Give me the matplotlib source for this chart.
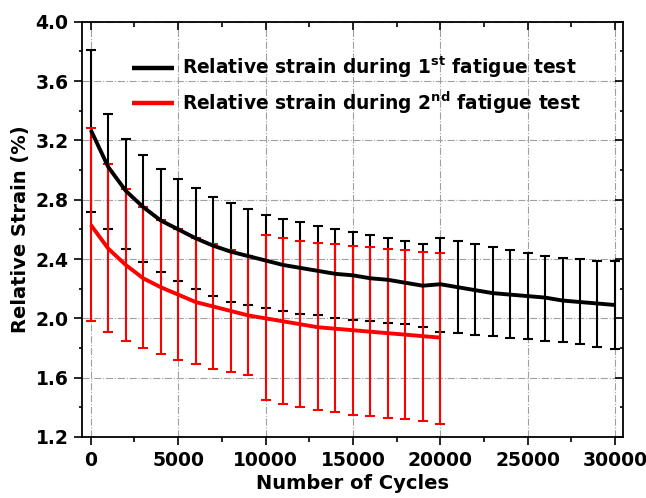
import matplotlib
matplotlib.use("Agg")
import matplotlib.pyplot as plt
import numpy as np
from matplotlib.ticker import MultipleLocator, FormatStrFormatter

plt.rcParams['font.family'] = ['DejaVu Sans']
plt.rcParams['font.weight'] = 'bold'
plt.rcParams['mathtext.fontset'] = 'custom'
plt.rcParams['mathtext.bf'] = 'DejaVu Sans:bold'
plt.rcParams['mathtext.rm'] = 'DejaVu Sans:bold'

# ---- data ----
cycles1 = list(range(0, 30001, 1000))
mean1 = [3.27, 3.02, 2.86, 2.75, 2.66, 2.60, 2.54, 2.49, 2.45, 2.42, 2.39,
         2.36, 2.34, 2.32, 2.30, 2.29, 2.27, 2.26, 2.24, 2.22, 2.23,
         2.21, 2.19, 2.17, 2.16, 2.15, 2.14, 2.12, 2.11, 2.10, 2.09]
upper1 = [3.81, 3.38, 3.21, 3.10, 3.01, 2.94, 2.88, 2.82, 2.78, 2.74, 2.70,
          2.67, 2.65, 2.62, 2.60, 2.58, 2.56, 2.54, 2.52, 2.50, 2.54,
          2.52, 2.50, 2.48, 2.46, 2.44, 2.42, 2.41, 2.40, 2.39, 2.39]
lower1 = [2.72, 2.60, 2.47, 2.38, 2.31, 2.25, 2.20, 2.15, 2.11, 2.09, 2.07,
          2.05, 2.03, 2.02, 2.00, 1.99, 1.98, 1.97, 1.96, 1.94, 1.91,
          1.90, 1.89, 1.88, 1.87, 1.86, 1.85, 1.84, 1.83, 1.81, 1.79]

cycles2 = list(range(0, 20001, 1000))
mean2 = [2.63, 2.47, 2.36, 2.27, 2.21, 2.16, 2.11, 2.08, 2.05, 2.02, 2.00,
         1.98, 1.96, 1.94, 1.93, 1.92, 1.91, 1.90, 1.89, 1.88, 1.87]
upper2 = [3.28, 3.04, 2.87, 2.75, 2.66, 2.60, 2.54, 2.50, 2.46, 2.42, 2.56,
          2.54, 2.52, 2.51, 2.50, 2.49, 2.48, 2.47, 2.46, 2.45, 2.44]
lower2 = [1.98, 1.91, 1.85, 1.80, 1.76, 1.72, 1.69, 1.66, 1.64, 1.62, 1.45,
          1.42, 1.40, 1.38, 1.37, 1.35, 1.34, 1.33, 1.32, 1.31, 1.29]

labels = [r"Relative strain during 1$^{\mathbf{st}}$ fatigue test",
          r"Relative strain during 2$^{\mathbf{nd}}$ fatigue test"]
colors = ['black', '#ff0000']

fig = plt.figure(figsize=(6.46, 4.98), dpi=100)
ax = fig.add_axes([0.1265, 0.1225, 0.9644 - 0.1265, 0.9564 - 0.1225])

series = [(cycles1, mean1, upper1, lower1), (cycles2, mean2, upper2, lower2)]
handles = []
for (x, m, u, l), c, lab in zip(series, colors, labels):
    x = np.array(x); m = np.array(m); u = np.array(u); l = np.array(l)
    ax.errorbar(x, m, yerr=[m - l, u - m], fmt='none', ecolor=c,
                elinewidth=1.5, capsize=3.5, capthick=1.5, zorder=3)
    h, = ax.plot(x, m, color=c, lw=2.8, zorder=4, label=lab,
                 solid_capstyle='butt', solid_joinstyle='round')
    handles.append(h)

ax.set_xlim(-520, 30460)
ax.set_ylim(1.2, 4.0)
ax.xaxis.set_major_locator(MultipleLocator(5000))
ax.xaxis.set_minor_locator(MultipleLocator(2500))
ax.yaxis.set_major_locator(MultipleLocator(0.4))
ax.yaxis.set_minor_locator(MultipleLocator(0.2))
ax.yaxis.set_major_formatter(FormatStrFormatter('%.1f'))

ax.grid(True, which='major', color='#a0a0a0', linestyle='-.', lw=0.8, zorder=0)
ax.set_axisbelow(True)

ax.tick_params(axis='both', which='major', labelsize=13.5, width=1.2)
ax.tick_params(axis='x', which='major', direction='out', length=6, pad=4,
               top=True)
ax.tick_params(axis='x', which='minor', direction='out', length=3.5, width=1.2,
               top=True)
ax.tick_params(axis='y', which='major', direction='out', length=5.5, pad=4,
               right=True)
ax.tick_params(axis='y', which='minor', direction='out', length=2.5, width=1.2,
               right=True)
for lab in ax.get_xticklabels() + ax.get_yticklabels():
    lab.set_fontweight('bold')
for t in ax.xaxis.get_major_ticks() + ax.xaxis.get_minor_ticks():
    t.tick2line.set_marker(3)  # TICKDOWN (inward at top)
for t in ax.yaxis.get_major_ticks() + ax.yaxis.get_minor_ticks():
    t.tick2line.set_marker(0)  # TICKLEFT (inward at right)

for s in ax.spines.values():
    s.set_linewidth(1.3)

ax.set_xlabel("Number of Cycles", fontsize=14, fontweight='bold', labelpad=3)
ax.set_ylabel("Relative Strain (%)", fontsize=14, fontweight='bold', labelpad=4)

leg = ax.legend(handles=handles, loc='upper left', bbox_to_anchor=(0.08, 0.938),
                frameon=False, fontsize=13.4, handlelength=2.25,
                handletextpad=0.42, labelspacing=0.5, borderaxespad=0)
for lh in leg.get_lines():
    lh.set_linewidth(3.2)

fig.savefig("out.png", dpi=100)
